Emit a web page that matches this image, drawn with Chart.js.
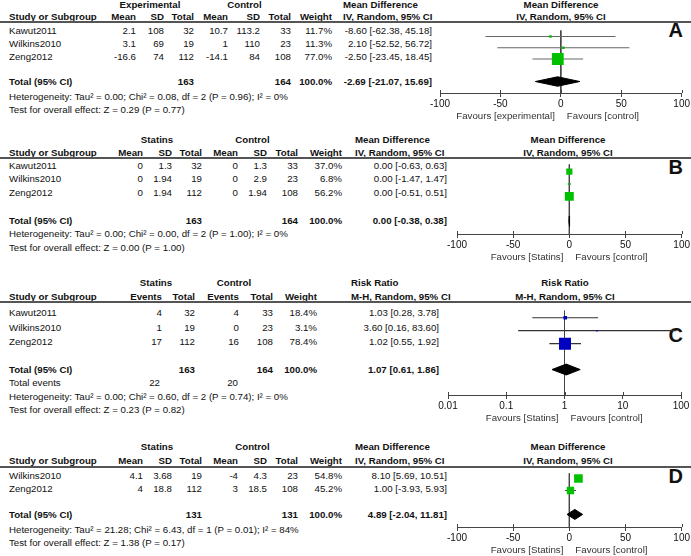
<!DOCTYPE html>
<html>
<head>
<meta charset="utf-8">
<script src="https://cdn.jsdelivr.net/npm/chart.js@4.4.1/dist/chart.umd.min.js"></script>
<style>
  body { margin: 0; background: #fff; }
  #page { position: relative; width: 691px; height: 556px; overflow: hidden;
          font-family: "Liberation Sans", Arial, sans-serif; color: #111; }
  .t { position: absolute; white-space: nowrap; font-size: 9.7px; line-height: 10px; }
  .b { font-weight: bold; }
  .rule { position: absolute; left: 0; width: 691px; height: 1.5px; background: #555; }
  canvas { position: absolute; }
</style>
</head>
<body>
<div id="page"></div>
<script>
// ---- A: continuous outcome, experimental vs control
const studiesA = ['Kawut2011', 'Wilkins2010', 'Zeng2012'];
const meanExpA = [2.1, 3.1, -16.6];
const sdExpA = [108, 69, 74];
const totalExpA = [32, 19, 112];
const meanCtlA = [10.7, 1, -14.1];
const sdCtlA = [113.2, 110, 84];
const totalCtlA = [33, 23, 108];
const weightA = [11.7, 11.3, 77.0];
const mdA = [-8.60, 2.10, -2.50];
const lowA = [-62.38, -52.52, -23.45];
const highA = [45.18, 56.72, 18.45];
const pooledA = [-2.69, -21.07, 15.69];
const sumsA = [163, 164];
const hetA = 'Heterogeneity: Tau² = 0.00; Chi² = 0.08, df = 2 (P = 0.96); I² = 0%';
const testA = 'Test for overall effect: Z = 0.29 (P = 0.77)';

// ---- B
const studiesB = ['Kawut2011', 'Wilkins2010', 'Zeng2012'];
const meanExpB = [0, 0, 0];
const sdExpB = [1.3, 1.94, 1.94];
const totalExpB = [32, 19, 112];
const meanCtlB = [0, 0, 0];
const sdCtlB = [1.3, 2.9, 1.94];
const totalCtlB = [33, 23, 108];
const weightB = [37.0, 6.8, 56.2];
const mdB = [0, 0, 0];
const lowB = [-0.63, -1.47, -0.51];
const highB = [0.63, 1.47, 0.51];
const pooledB = [0, -0.38, 0.38];
const sumsB = [163, 164];
const hetB = 'Heterogeneity: Tau² = 0.00; Chi² = 0.00, df = 2 (P = 1.00); I² = 0%';
const testB = 'Test for overall effect: Z = 0.00 (P = 1.00)';

// ---- C: dichotomous, risk ratio
const studiesC = ['Kawut2011', 'Wilkins2010', 'Zeng2012'];
const eventsExpC = [4, 1, 17];
const totalExpC = [32, 19, 112];
const eventsCtlC = [4, 0, 16];
const totalCtlC = [33, 23, 108];
const weightC = [18.4, 3.1, 78.4];
const rrC = [1.03, 3.60, 1.02];
const lowC = [0.28, 0.16, 0.55];
const highC = [3.78, 83.60, 1.92];
const pooledC = [1.07, 0.61, 1.86];
const sumsC = [163, 164];
const totalEventsC = [22, 20];
const hetC = 'Heterogeneity: Tau² = 0.00; Chi² = 0.60, df = 2 (P = 0.74); I² = 0%';
const testC = 'Test for overall effect: Z = 0.23 (P = 0.82)';

// ---- D
const studiesD = ['Wilkins2010', 'Zeng2012'];
const meanExpD = [4.1, 4];
const sdExpD = [3.68, 18.8];
const totalExpD = [19, 112];
const meanCtlD = [-4, 3];
const sdCtlD = [4.3, 18.5];
const totalCtlD = [23, 108];
const weightD = [54.8, 45.2];
const mdD = [8.10, 1.00];
const lowD = [5.69, -3.93];
const highD = [10.51, 5.93];
const pooledD = [4.89, -2.04, 11.81];
const sumsD = [131, 131];
const hetD = 'Heterogeneity: Tau² = 21.28; Chi² = 6.43, df = 1 (P = 0.01); I² = 84%';
const testD = 'Test for overall effect: Z = 1.38 (P = 0.17)';

const ticksMD = [-100, -50, 0, 50, 100];
const ticksRR = [0.01, 0.1, 1, 10, 100];

const GREEN = '#00c000';
const BLUE = '#0000c0';
const FONT = '"Liberation Sans", Arial, sans-serif';

const page = document.getElementById('page');

function put(x, y, s, align, bold, size) {
  const d = document.createElement('div');
  d.className = 't' + (bold ? ' b' : '');
  d.textContent = s;
  d.style.left = x + 'px';
  d.style.top = y + 'px';
  const tx = align === 'r' ? '-100%' : align === 'c' ? '-50%' : '0';
  d.style.transform = `translate(${tx}, -50%)`;
  if (size) { d.style.fontSize = size + 'px'; d.style.lineHeight = size + 'px'; }
  page.appendChild(d);
}

function rule(y) {
  const d = document.createElement('div');
  d.className = 'rule';
  d.style.top = (y - 0.75) + 'px';
  page.appendChild(d);
}

const f2 = v => v.toFixed(2);
const ci = (e, l, h) => `${f2(e)} [${f2(l)}, ${f2(h)}]`;
const pct = w => w.toFixed(1) + '%';

function continuousTable(L, groups, studies, m1, s1, n1, m2, s2, n2, wt, est, lo, hi, pooled, sums, het, test, letter) {
  const c = L.cols;
  put(L.groups[0], L.h1, groups[0], 'c', true);
  put(L.groups[1], L.h1, 'Control', 'c', true);
  put(L.ciLeft, L.h1, 'Mean Difference', 'l', true);
  put(L.plotMid, L.h1, 'Mean Difference', 'c', true);
  ['Mean', 'SD', 'Total', 'Mean', 'SD', 'Total', 'Weight'].forEach((h, i) => put(c[i], L.h2, h, 'r', true));
  put(9, L.h2, 'Study or Subgroup', 'l', true);
  put(L.ciLeft, L.h2, 'IV, Random, 95% CI', 'l', true);
  put(L.plotMid, L.h2, 'IV, Random, 95% CI', 'c', true);
  rule(L.rule);
  studies.forEach((s, i) => {
    const y = L.rows[i];
    put(9, y, s, 'l');
    [m1[i], s1[i], n1[i], m2[i], s2[i], n2[i]].forEach((v, j) => put(c[j], y, String(v), 'r'));
    put(c[6], y, pct(wt[i]), 'r');
    put(L.ciRight, y, ci(est[i], lo[i], hi[i]), 'r');
  });
  put(9, L.total, 'Total (95% CI)', 'l', true);
  put(c[2], L.total, String(sums[0]), 'r', true);
  put(c[5], L.total, String(sums[1]), 'r', true);
  put(c[6], L.total, '100.0%', 'r', true);
  put(L.ciRight, L.total, ci(pooled[0], pooled[1], pooled[2]), 'r', true);
  put(9, L.het, het, 'l');
  put(9, L.test, test, 'l');
  put(683, L.letterY, letter, 'r', true, 20);
}

const layoutA = { h1: 5, h2: 17, rule: 22, rows: [31, 44, 57], total: 81.5, het: 97, test: 110, letterY: 30,
  cols: [136, 164, 194, 228, 260, 291, 332], groups: [150, 244.5], ciLeft: 343, ciRight: 432, plotMid: 561 };
const layoutB = { h1: 140, h2: 153, rule: 158, rows: [166, 179, 193], total: 221, het: 234, test: 248, letterY: 167,
  cols: [143, 172, 202, 238, 267, 298, 342], groups: [157, 252.5], ciLeft: 355, ciRight: 447, plotMid: 568 };
const layoutD = { h1: 447, h2: 461, rule: 467, rows: [476, 489], total: 515, het: 530, test: 543, letterY: 476,
  cols: [143, 172, 202, 238, 267, 298, 342], groups: [157, 252.5], ciLeft: 355, ciRight: 447, plotMid: 568 };

continuousTable(layoutA, ['Experimental'], studiesA, meanExpA, sdExpA, totalExpA, meanCtlA, sdCtlA, totalCtlA,
  weightA, mdA, lowA, highA, pooledA, sumsA, hetA, testA, 'A');
continuousTable(layoutB, ['Statins'], studiesB, meanExpB, sdExpB, totalExpB, meanCtlB, sdCtlB, totalCtlB,
  weightB, mdB, lowB, highB, pooledB, sumsB, hetB, testB, 'B');
continuousTable(layoutD, ['Statins'], studiesD, meanExpD, sdExpD, totalExpD, meanCtlD, sdCtlD, totalCtlD,
  weightD, mdD, lowD, highD, pooledD, sumsD, hetD, testD, 'D');

// C table (events)
(function () {
  const L = { h1: 283, h2: 297, rule: 302, rows: [313, 328, 342], total: 370, events: 383, het: 397, test: 410,
    cols: [162, 195, 239, 273, 317], ciLeft: 351, ciRight: 439, plotMid: 565 };
  const c = L.cols;
  put(156, L.h1, 'Statins', 'c', true);
  put(234, L.h1, 'Control', 'c', true);
  put(L.ciLeft, L.h1, 'Risk Ratio', 'l', true);
  put(L.plotMid, L.h1, 'Risk Ratio', 'c', true);
  put(9, L.h2, 'Study or Subgroup', 'l', true);
  ['Events', 'Total', 'Events', 'Total', 'Weight'].forEach((h, i) => put(c[i], L.h2, h, 'r', true));
  put(L.ciLeft, L.h2, 'M-H, Random, 95% CI', 'l', true);
  put(L.plotMid, L.h2, 'M-H, Random, 95% CI', 'c', true);
  rule(L.rule);
  studiesC.forEach((s, i) => {
    const y = L.rows[i];
    put(9, y, s, 'l');
    [eventsExpC[i], totalExpC[i], eventsCtlC[i], totalCtlC[i]].forEach((v, j) => put(c[j], y, String(v), 'r'));
    put(c[4], y, pct(weightC[i]), 'r');
    put(L.ciRight, y, ci(rrC[i], lowC[i], highC[i]), 'r');
  });
  put(9, L.total, 'Total (95% CI)', 'l', true);
  put(c[1], L.total, String(sumsC[0]), 'r', true);
  put(c[3], L.total, String(sumsC[1]), 'r', true);
  put(c[4], L.total, '100.0%', 'r', true);
  put(L.ciRight, L.total, ci(pooledC[0], pooledC[1], pooledC[2]), 'r', true);
  put(9, L.events, 'Total events', 'l');
  put(c[0] - 2, L.events, String(totalEventsC[0]), 'r');
  put(c[2] - 1, L.events, String(totalEventsC[1]), 'r');
  put(9, L.het, hetC, 'l');
  put(9, L.test, testC, 'l');
  put(683, 335, 'C', 'r', true, 20);
})();

// favours labels + upward half of tick marks
const favoursPlugin = {
  id: 'favours',
  afterDraw(chart, args, opts) {
    const { ctx, chartArea } = chart;
    const x = chart.scales.x;
    ctx.save();
    ctx.strokeStyle = '#444';
    ctx.lineWidth = 1;
    x.ticks.forEach((t, i) => {
      const px = Math.round(x.getPixelForTick(i)) + 0.5;
      ctx.beginPath();
      ctx.moveTo(px, chartArea.bottom - 3);
      ctx.lineTo(px, chartArea.bottom);
      ctx.stroke();
    });
    const zx = x.getPixelForValue(opts.center);
    ctx.font = '9.7px ' + FONT;
    ctx.fillStyle = '#333';
    ctx.textBaseline = 'middle';
    ctx.textAlign = 'right';
    ctx.fillText(opts.left, zx - 6, chartArea.bottom + 23);
    ctx.textAlign = 'left';
    ctx.fillText(opts.right, zx + 6, chartArea.bottom + 23);
    ctx.restore();
  }
};

function sideFromWeight(w) { return 1 + 0.14 * w; }

function forest(g, est, lo, hi, wt, pooled, color, ciColor, log, favours) {
  const cv = document.createElement('canvas');
  const left = g.left - 20;
  cv.width = 691 - left;
  cv.height = g.axis - g.top + 30;
  cv.style.left = left + 'px';
  cv.style.top = g.top + 'px';
  page.appendChild(cv);

  const center = log ? 1 : 0;
  const totalRow = est.length + 2;
  const dh = 0.42;
  const datasets = [];
  datasets.push({
    data: est.map((v, i) => ({ x: v, y: i + 1 })),
    pointStyle: 'rect',
    pointRadius: wt.map(w => sideFromWeight(w) / Math.SQRT2),
    backgroundColor: color, borderColor: color, borderWidth: 0, showLine: false
  });
  datasets.push({
    data: [
      { x: pooled[1], y: totalRow }, { x: pooled[0], y: totalRow - dh },
      { x: pooled[2], y: totalRow }, { x: pooled[0], y: totalRow + dh },
      { x: pooled[1], y: totalRow }
    ],
    showLine: true, fill: 'shape', backgroundColor: '#000', borderColor: '#000', borderWidth: 1, pointRadius: 0
  });
  est.forEach((v, i) => {
    datasets.push({
      data: [{ x: lo[i], y: i + 1 }, { x: hi[i], y: i + 1 }],
      showLine: true, borderColor: ciColor, borderWidth: 1.2, pointRadius: 0
    });
  });
  datasets.push({
    data: [{ x: center, y: g.yMin }, { x: center, y: g.yMax }],
    showLine: true, borderColor: '#444', borderWidth: 1, pointRadius: 0
  });

  const ticks = log ? ticksRR : ticksMD;
  new Chart(cv, {
    type: 'scatter',
    data: { datasets },
    options: {
      responsive: false,
      animation: false,
      events: [],
      layout: { padding: { left: 20, right: 691 - g.right, top: 0, bottom: 12 } },
      plugins: {
        legend: { display: false },
        tooltip: { enabled: false },
        favours: { center, left: favours[0], right: favours[1] }
      },
      scales: {
        x: {
          type: log ? 'logarithmic' : 'linear',
          min: ticks[0], max: ticks[ticks.length - 1],
          afterBuildTicks: s => { s.ticks = ticks.map(v => ({ value: v })); },
          ticks: {
            font: { size: 10, family: FONT }, color: '#111', padding: 1,
            autoSkip: false, maxRotation: 0, callback: v => String(v)
          },
          grid: { drawOnChartArea: false, drawTicks: true, tickLength: 4, color: '#444' },
          border: { color: '#444', width: 1 }
        },
        y: { display: false, reverse: true, min: g.yMin, max: g.yMax }
      }
    },
    plugins: [favoursPlugin]
  });
}

forest({ top: 22, axis: 93, left: 440, right: 682, yMin: 0.451, yMax: 6.02 },
  mdA, lowA, highA, weightA, pooledA, GREEN, '#666', false, ['Favours [experimental]', 'Favours [control]']);
forest({ top: 158, axis: 234, left: 457, right: 682, yMin: 0.407, yMax: 6.037 },
  mdB, lowB, highB, weightB, pooledB, GREEN, '#444', false, ['Favours [Statins]', 'Favours [control]']);
forest({ top: 302, axis: 395, left: 448, right: 681, yMin: 0.439, yMax: 6.965 },
  rrC, lowC, highC, weightC, pooledC, BLUE, '#333', true, ['Favours [Statins]', 'Favours [control]']);
forest({ top: 467, axis: 527, left: 457, right: 682, yMin: 0.55, yMax: 5.05 },
  mdD, lowD, highD, weightD, pooledD, GREEN, '#444', false, ['Favours [Statins]', 'Favours [control]']);
</script>
</body>
</html>
